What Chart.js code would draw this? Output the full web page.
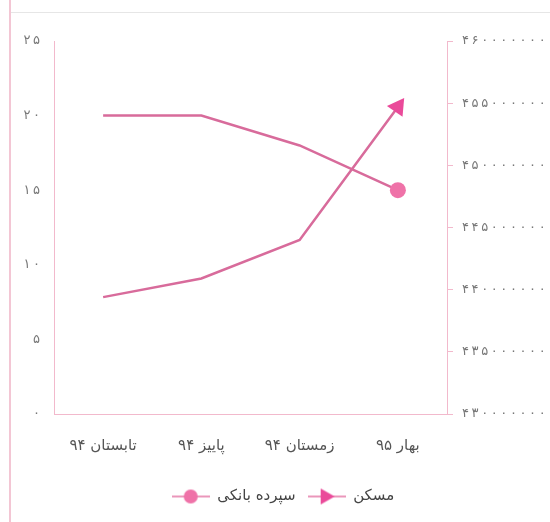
<!DOCTYPE html>
<html>
<head>
<meta charset="utf-8">
<script src="https://cdn.jsdelivr.net/npm/chart.js@4"></script>
<style>
	body { margin: 0; background: #fff; }
	.wrap { position: relative; width: 550px; height: 522px; }
	.edge-left { position: absolute; left: 9px; top: 0; width: 2px; height: 522px; background: #f3c6d4; }
	.edge-top { position: absolute; left: 11px; top: 12px; width: 539px; height: 1px; background: #e6e6e6; }
	canvas { position: absolute; left: 0; top: 0; }
</style>
</head>
<body>
<div class="wrap">
	<div class="edge-left"></div>
	<div class="edge-top"></div>
	<canvas id="chart" width="550" height="522"></canvas>
</div>
<script>
const seasons = ['تابستان ۹۴', 'پاییز ۹۴', 'زمستان ۹۴', 'بهار ۹۵'];
const seriesNames = ['سپرده بانکی', 'مسکن'];
const depositValues = [20, 20, 18, 15];
const housingValues = [439400000, 440900000, 444000000, 454700000];
const leftTicks = [0, 5, 10, 15, 20, 25];
const rightTicks = [430000000, 435000000, 440000000, 445000000, 450000000, 455000000, 460000000];

const lineColor = '#d86b9b';
const axisColor = '#f2b9cc';
const circleColor = '#ef72a8';
const triangleColor = '#ea4a9a';

// persian digits, a thin space between them like the printed figure
const faDigits = (v) => String(v).replace(/\d/g, d => '۰۱۲۳۴۵۶۷۸۹'[d]).split('').join('\u2009');

// only the last point of each line gets a marker
const lastOnly = (arr, r) => arr.map((_, i) => i === arr.length - 1 ? r : 0);

// small legend images: line with a marker in the middle
function legendIcon(kind) {
	const c = document.createElement('canvas');
	c.width = 38;
	c.height = 18;
	const g = c.getContext('2d');
	g.strokeStyle = '#ea97bb';
	g.lineWidth = 2;
	g.beginPath();
	g.moveTo(0, 9);
	g.lineTo(38, 9);
	g.stroke();
	if (kind === 'circle') {
		g.fillStyle = circleColor;
		g.beginPath();
		g.arc(19, 9, 7, 0, Math.PI * 2);
		g.fill();
	} else {
		g.fillStyle = triangleColor;
		g.beginPath();
		g.moveTo(27, 9);
		g.lineTo(13, 1);
		g.lineTo(13, 17);
		g.closePath();
		g.fill();
	}
	return c;
}
const legendIcons = [legendIcon('circle'), legendIcon('triangle')];

const ctx = document.getElementById('chart').getContext('2d');

new Chart(ctx, {
	type: 'line',
	data: {
		labels: seasons,
		datasets: [{
			label: seriesNames[0],
			data: depositValues,
			yAxisID: 'y',
			borderColor: lineColor,
			borderWidth: 2.5,
			pointStyle: 'circle',
			pointRadius: lastOnly(depositValues, 8),
			pointBackgroundColor: circleColor,
			pointBorderWidth: 0,
			tension: 0
		}, {
			label: seriesNames[1],
			data: housingValues,
			yAxisID: 'y1',
			borderColor: lineColor,
			borderWidth: 2.5,
			pointStyle: 'triangle',
			pointRotation: 35,
			pointRadius: lastOnly(housingValues, 11),
			pointBackgroundColor: triangleColor,
			pointBorderWidth: 0,
			tension: 0
		}]
	},
	options: {
		responsive: false,
		animation: false,
		layout: { padding: { top: 41, bottom: 8, left: 16, right: 0 } },
		plugins: {
			tooltip: { enabled: false },
			legend: {
				position: 'bottom',
				labels: {
					usePointStyle: true,
					pointStyleWidth: 38,
					padding: 12,
					color: '#444',
					font: { family: 'DejaVu Sans', size: 15 },
					generateLabels: (chart) => {
						const items = Chart.defaults.plugins.legend.labels.generateLabels(chart);
						items.forEach((it, i) => { it.pointStyle = legendIcons[i]; it.rotation = 0; });
						return items;
					}
				}
			}
		},
		scales: {
			x: {
				offset: true,
				grid: { drawOnChartArea: false, drawTicks: false },
				border: { color: axisColor, width: 1 },
				ticks: { color: '#555', padding: 23, font: { family: 'DejaVu Sans', size: 15 } },
				afterFit: (s) => { s.height = 63; }
			},
			y: {
				position: 'left',
				min: leftTicks[0],
				max: leftTicks[leftTicks.length - 1],
				grid: { drawOnChartArea: false, drawTicks: false },
				border: { color: axisColor, width: 1 },
				afterBuildTicks: (s) => { s.ticks = leftTicks.map(v => ({ value: v })); },
				ticks: {
					color: '#777',
					padding: 14,
					font: { family: 'DejaVu Sans', size: 13 },
					callback: (v) => faDigits(v)
				},
				afterFit: (s) => { s.width = 38; }
			},
			y1: {
				position: 'right',
				min: rightTicks[0],
				max: rightTicks[rightTicks.length - 1],
				grid: { drawOnChartArea: false, drawTicks: true, tickLength: 6, tickColor: axisColor },
				border: { color: axisColor, width: 1 },
				afterBuildTicks: (s) => { s.ticks = rightTicks.map(v => ({ value: v })); },
				ticks: {
					color: '#777',
					padding: 9,
					font: { family: 'DejaVu Sans', size: 13 },
					callback: (v) => faDigits(v)
				},
				afterFit: (s) => { s.width = 103; }
			}
		}
	}
});
</script>
</body>
</html>
